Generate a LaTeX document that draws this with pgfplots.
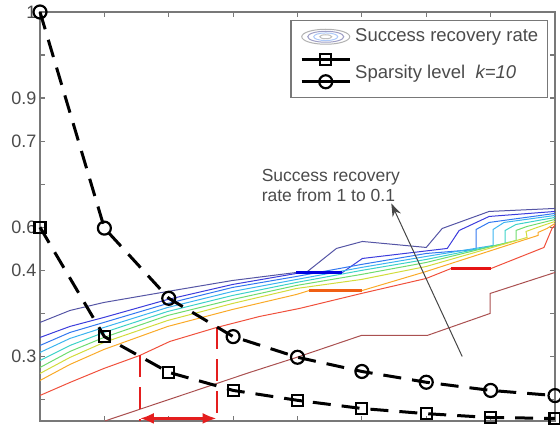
\documentclass[border=0pt]{standalone}
\usepackage{fontspec}
\setmainfont{Liberation Sans}
\usepackage{pgfplots}
\pgfplotsset{compat=1.18}
\usetikzlibrary{arrows.meta}
\definecolor{axgray}{RGB}{120,120,120}
\definecolor{txtgray}{RGB}{75,75,75}
\definecolor{cA}{RGB}{85,85,165}
\definecolor{cB}{RGB}{60,60,220}
\definecolor{cC}{RGB}{50,120,240}
\definecolor{cD}{RGB}{60,180,240}
\definecolor{cE}{RGB}{60,210,200}
\definecolor{cF}{RGB}{110,220,110}
\definecolor{cG}{RGB}{210,220,60}
\definecolor{cH}{RGB}{250,170,40}
\definecolor{cI}{RGB}{240,80,60}
\definecolor{cJ}{RGB}{170,80,80}
\definecolor{rd}{RGB}{228,30,30}
\definecolor{thB}{RGB}{0,0,225}
\definecolor{thO}{RGB}{240,95,20}
\definecolor{thR}{RGB}{230,20,20}
\definecolor{arrg}{RGB}{70,70,70}
\begin{document}
\begin{tikzpicture}
\begin{axis}[
  scale only axis, width=515bp, height=409bp,
  xmin=0, xmax=8, ymin=-0.5, ymax=9,
  clip=false,
  axis line style={draw=axgray, line width=1.5bp},
  tick style={draw=axgray, line width=1.2bp},
  major tick length=5bp,
  tick align=inside,
  xtick={0,1,...,8}, xticklabels={},
  ytick={0,1,...,9}, yticklabels={,0.3,,0.4,0.6,,0.7,0.9,,1},
  yticklabel style={font=\fontsize{18bp}{18bp}\selectfont, text=txtgray},
  legend cell align=left,
  legend style={at={(rel axis cs:1,1)}, anchor=north east, xshift=-7bp, yshift=-8bp,
    draw=axgray, line width=1.5bp, fill=white, inner xsep=9bp, inner ysep=7.5bp,
    row sep=5.5bp, column sep=4bp, text=txtgray,
    font=\fontsize{18.5bp}{18.5bp}\selectfont,
    nodes={inner sep=0pt, text height=13bp, text depth=4bp}},
  legend image code/.code={\draw[mark repeat=2,mark phase=2,#1,solid] plot coordinates {(0bp,0bp) (24bp,0bp) (48bp,0bp)};},
]
\addlegendimage{legend image code/.code={
  \draw[gray!60, line width=1bp] (24bp,0bp) ellipse [x radius=24bp, y radius=7.5bp];
  \draw[blue!25!gray!60, line width=1bp] (24bp,0bp) ellipse [x radius=18bp, y radius=5.5bp];
  \draw[cC!40, line width=1bp] (24bp,0bp) ellipse [x radius=12bp, y radius=3.8bp];
  \draw[gray!50, line width=1bp] (24bp,0bp) ellipse [x radius=6bp, y radius=2bp];
}}
\addlegendentry{Success recovery rate}
% contour lines (levels 0.1 ... 1)
\addplot[cA, line width=1bp, forget plot] coordinates {(0,1.789) (0.465,2.067) (0.992,2.253) (1.984,2.509) (2.992,2.764) (3.984,2.950) (4.155,2.973) (4.605,3.508) (5.008,3.670) (6.0,3.531) (6.248,3.972) (6.977,4.367) (8,4.437)};
\addplot[cB, line width=1bp, forget plot] coordinates {(0,1.440) (0.465,1.696) (0.992,1.905) (1.984,2.323) (2.992,2.671) (3.984,2.927) (4.698,2.950) (5.008,3.275) (6.326,3.508) (6.512,3.926) (6.977,4.251) (8,4.367)};
\addplot[cC, line width=1bp, forget plot] coordinates {(0,1.254) (0.465,1.556) (0.992,1.789) (1.984,2.230) (2.992,2.602) (3.984,2.857) (4.992,3.136) (6.0,3.391) (6.775,3.484) (6.775,3.949) (6.977,4.112) (8,4.321)};
\addplot[cD, line width=1bp, forget plot] coordinates {(0,1.092) (0.465,1.417) (0.992,1.672) (1.984,2.137) (2.992,2.509) (3.984,2.787) (4.992,3.066) (6.0,3.322) (7.039,3.577) (7.039,3.949) (7.209,4.112) (8,4.274)};
\addplot[cE, line width=1bp, forget plot] coordinates {(0,0.906) (0.465,1.254) (0.992,1.556) (1.984,2.044) (2.992,2.416) (3.984,2.718) (4.992,2.997) (6.0,3.252) (7.225,3.624) (7.225,3.926) (7.395,4.065) (8,4.228)};
\addplot[cF, line width=1bp, forget plot] coordinates {(0,0.743) (0.465,1.115) (0.992,1.440) (1.984,1.951) (2.992,2.323) (3.984,2.648) (4.992,2.904) (6.0,3.182) (7.395,3.693) (7.395,3.926) (7.566,4.019) (8,4.181)};
\addplot[cG, line width=1bp, forget plot] coordinates {(0,0.604) (0.465,0.976) (0.992,1.324) (1.984,1.835) (2.992,2.230) (3.984,2.578) (4.992,2.787) (6.0,3.089) (7.566,3.763) (7.550,3.902) (7.721,3.995) (8,4.135)};
\addplot[cH, line width=1bp, forget plot] coordinates {(0,0.441) (0.465,0.813) (0.992,1.161) (1.984,1.696) (2.992,2.091) (3.984,2.439) (4.186,2.532) (5.008,2.532) (6.0,2.973) (7.736,3.810) (7.736,3.879) (7.876,3.972) (8,4.088)};
\addplot[cI, line width=1bp, forget plot] coordinates {(0,0.093) (0.465,0.395) (0.992,0.720) (1.55,1.022) (2.016,1.347) (2.744,1.672) (3.411,1.928) (4.031,2.114) (4.992,2.462) (6.0,2.811) (6.388,3.043) (7.008,3.043) (7.829,3.531) (7.953,3.972) (8,4.042)};
\addplot[cJ, line width=1bp, forget plot] coordinates {(1.008,-0.5) (3.256,0.627) (3.984,0.976) (4.992,1.487) (6.016,1.487) (6.992,1.998) (6.992,2.462) (8,2.950)};
% overlapping (thick) contour segments
\addplot[thB, line width=3bp, forget plot] coordinates {(3.984,2.945) (4.698,2.945)};
\addplot[thO, line width=3bp, forget plot] coordinates {(4.186,2.532) (5.008,2.532)};
\addplot[thR, line width=3bp, forget plot] coordinates {(6.388,3.043) (7.008,3.043)};
% red markers
\addplot[rd, line width=2bp, dash pattern=on 22bp off 10bp, forget plot] coordinates {(1.55,1.022) (1.55,-0.5)};
\addplot[rd, line width=2bp, dash pattern=on 22bp off 10bp, forget plot] coordinates {(2.744,1.672) (2.744,-0.5)};
\addplot[rd, line width=3bp, arrows={Latex[length=14bp,width=11bp]-Latex[length=14bp,width=11bp]}, forget plot] coordinates {(1.55,-0.44) (2.744,-0.44)};
% sparsity curves
\addplot[black, line width=3bp, dash pattern=on 18bp off 11bp, mark=square, mark size=5.5bp, mark options={solid, line width=2.2bp, fill=white}] coordinates {(0,4.0) (1,1.46) (2,0.63) (3,0.21) (4,-0.02) (5,-0.21) (6,-0.33) (7,-0.42) (8,-0.44)};
\addlegendentry{}
\addplot[black, line width=3bp, dash pattern=on 18bp off 11bp, mark=o, mark size=6.5bp, mark options={solid, line width=2.2bp, fill=white}] coordinates {(0,9.0) (1,3.98) (2,2.35) (3,1.46) (4,0.98) (5,0.65) (6,0.40) (7,0.21) (8,0.09)};
\addlegendentry{\raisebox{8bp}{Sparsity level\ \ \textit{k=10}}}
% annotation
\node[anchor=west, align=left, inner sep=0pt, text=txtgray, font=\fontsize{17.5bp}{20bp}\selectfont] at (axis cs:3.442,4.971) {Success recovery\\rate from 1 to 0.1};
\draw[arrg, line width=1bp, -{Stealth[length=13bp,width=9bp]}] (axis cs:6.558,0.999) -- (axis cs:5.457,4.553);
\coordinate (bbSW) at (rel axis cs:0,0);
\coordinate (bbNE) at (rel axis cs:1,1);
\end{axis}
\pgfresetboundingbox
\path[use as bounding box] ([shift={(-40bp,-7bp)}]bbSW) rectangle ([shift={(5bp,12bp)}]bbNE);
\end{tikzpicture}
\end{document}
